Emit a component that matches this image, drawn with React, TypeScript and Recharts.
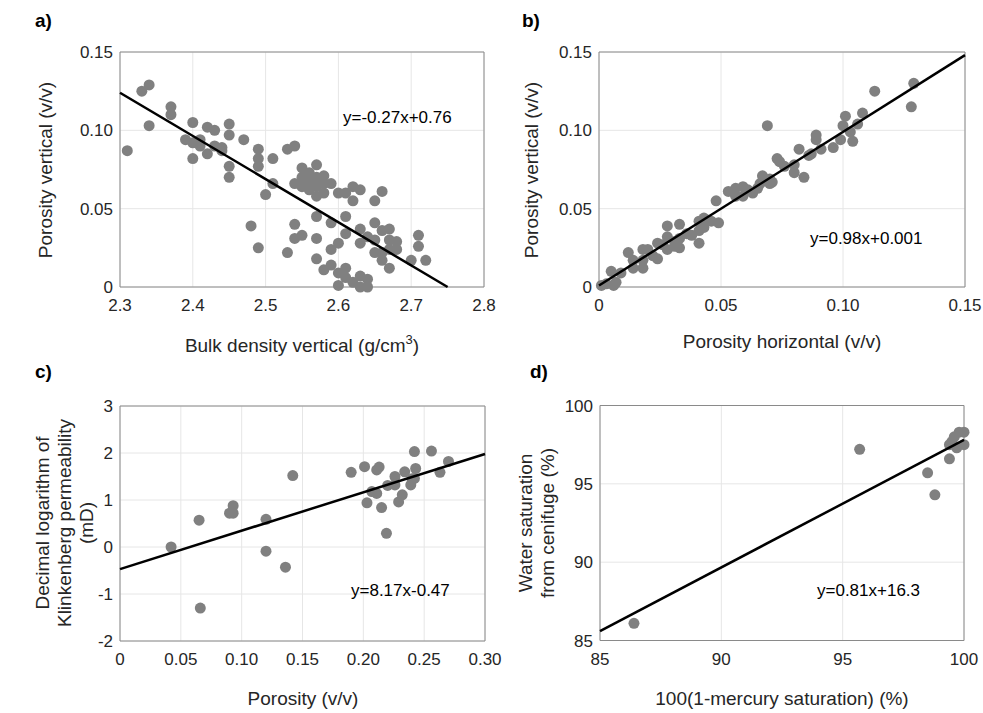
import { ScatterChart, Scatter, XAxis, YAxis, CartesianGrid, ReferenceArea } from "recharts";

const FONT = "'Liberation Sans', Arial, Helvetica, sans-serif";
const GREY = "#808080";
const INK = "#262626";

type Pt = [number, number];

// a) bulk density (g/cm3) vs vertical porosity (v/v)
const densityPorosity: Pt[] = [
  [2.31, 0.087], [2.33, 0.125], [2.34, 0.129], [2.34, 0.103], [2.37, 0.115], [2.37, 0.11],
  [2.4, 0.105], [2.39, 0.094], [2.4, 0.092], [2.41, 0.094], [2.41, 0.09], [2.4, 0.082],
  [2.42, 0.102], [2.43, 0.1], [2.42, 0.085], [2.43, 0.09], [2.44, 0.089], [2.44, 0.087],
  [2.45, 0.104], [2.45, 0.097], [2.45, 0.077], [2.45, 0.07], [2.47, 0.094], [2.49, 0.088],
  [2.49, 0.082], [2.49, 0.077], [2.51, 0.082], [2.51, 0.066], [2.5, 0.059], [2.48, 0.039],
  [2.49, 0.025], [2.53, 0.088], [2.53, 0.022],
  [2.54, 0.09], [2.55, 0.076], [2.57, 0.078], [2.54, 0.066], [2.55, 0.07], [2.56, 0.068],
  [2.57, 0.064], [2.58, 0.071], [2.58, 0.066], [2.59, 0.066], [2.57, 0.058], [2.56, 0.062],
  [2.6, 0.06], [2.61, 0.06], [2.62, 0.064], [2.63, 0.062], [2.62, 0.055], [2.65, 0.055],
  [2.66, 0.061], [2.56, 0.073], [2.57, 0.07], [2.55, 0.064], [2.58, 0.06],
  [2.57, 0.045], [2.54, 0.04], [2.54, 0.031], [2.55, 0.033], [2.57, 0.031], [2.57, 0.018],
  [2.59, 0.041], [2.59, 0.024], [2.6, 0.028], [2.61, 0.045], [2.61, 0.034], [2.58, 0.011],
  [2.59, 0.014], [2.6, 0.009], [2.61, 0.012], [2.61, 0.006], [2.6, 0.001], [2.62, 0.003],
  [2.63, 0.007], [2.64, 0.005], [2.64, 0.0], [2.63, 0.0], [2.63, 0.037], [2.63, 0.028],
  [2.64, 0.032], [2.65, 0.041], [2.65, 0.03], [2.65, 0.022], [2.66, 0.036], [2.66, 0.022],
  [2.66, 0.017], [2.67, 0.037], [2.67, 0.03], [2.67, 0.024], [2.67, 0.012], [2.68, 0.029],
  [2.68, 0.024], [2.7, 0.017], [2.71, 0.033], [2.71, 0.026], [2.72, 0.017],
];
const densityFit: Pt[] = [[2.3, 0.124], [2.75, 0]];

// b) horizontal vs vertical porosity
const porosityHV: Pt[] = [
  [0.069, 0.103], [0.001, 0.001], [0.003, 0.002], [0.005, 0.01], [0.007, 0.003], [0.009, 0.009],
  [0.006, 0.001], [0.012, 0.022], [0.014, 0.017], [0.014, 0.012], [0.018, 0.024], [0.018, 0.017],
  [0.018, 0.012], [0.02, 0.024], [0.022, 0.02], [0.024, 0.028], [0.024, 0.018], [0.026, 0.027],
  [0.028, 0.039], [0.028, 0.032], [0.028, 0.024], [0.031, 0.029], [0.031, 0.026], [0.033, 0.04],
  [0.033, 0.031], [0.036, 0.034], [0.033, 0.025], [0.038, 0.033], [0.041, 0.028], [0.041, 0.042],
  [0.041, 0.036], [0.043, 0.044], [0.046, 0.042], [0.049, 0.041], [0.048, 0.055], [0.043, 0.038],
  [0.053, 0.061], [0.056, 0.063], [0.056, 0.058], [0.059, 0.058], [0.059, 0.064], [0.061, 0.062],
  [0.063, 0.06], [0.065, 0.063], [0.066, 0.066], [0.067, 0.071], [0.07, 0.066], [0.07, 0.069],
  [0.073, 0.082], [0.074, 0.08], [0.071, 0.067], [0.076, 0.077], [0.08, 0.073], [0.08, 0.078],
  [0.082, 0.088], [0.084, 0.07], [0.086, 0.084], [0.087, 0.085], [0.089, 0.097], [0.089, 0.094],
  [0.091, 0.088], [0.096, 0.089], [0.1, 0.103], [0.101, 0.109], [0.099, 0.094], [0.104, 0.093],
  [0.106, 0.104], [0.108, 0.111], [0.103, 0.099], [0.113, 0.125], [0.129, 0.13], [0.128, 0.115],
];
const porosityFit: Pt[] = [[0, 0.001], [0.15, 0.148]];

// c) porosity vs log10 Klinkenberg permeability
const permeability: Pt[] = [
  [0.042, 0.0], [0.065, 0.57], [0.066, -1.3], [0.09, 0.72], [0.093, 0.72], [0.093, 0.88],
  [0.12, 0.59], [0.12, -0.09], [0.136, -0.43], [0.142, 1.52], [0.19, 1.59], [0.201, 1.71],
  [0.203, 0.94], [0.207, 1.18], [0.211, 1.14], [0.211, 1.64], [0.213, 1.7], [0.215, 0.84],
  [0.219, 0.29], [0.22, 1.31], [0.226, 1.5], [0.226, 1.32], [0.229, 0.96], [0.232, 1.11],
  [0.234, 1.6], [0.239, 1.32], [0.24, 1.45], [0.242, 2.03], [0.243, 1.67], [0.242, 1.46],
  [0.256, 2.04], [0.263, 1.59], [0.27, 1.82],
];
const permeabilityFit: Pt[] = [[0, -0.47], [0.3, 1.98]];

// d) mercury vs centrifuge water saturation
const saturation: Pt[] = [
  [86.4, 86.1], [95.7, 97.2], [98.5, 95.7], [98.8, 94.3], [99.4, 96.6], [99.4, 97.5],
  [99.7, 97.3], [99.6, 98.0], [99.8, 98.3], [100.0, 98.3], [100.0, 97.5], [99.5, 97.7],
];
const saturationFit: Pt[] = [[85, 85.6], [100, 97.8]];

const ticksA = { x: [2.3, 2.4, 2.5, 2.6, 2.7, 2.8], y: [0, 0.05, 0.1, 0.15] };
const ticksB = { x: [0, 0.05, 0.1, 0.15], y: [0, 0.05, 0.1, 0.15] };
const ticksC = { x: [0, 0.05, 0.1, 0.15, 0.2, 0.25, 0.3], y: [-2, -1, 0, 1, 2, 3] };
const ticksD = { x: [85, 90, 95, 100], y: [85, 90, 95, 100] };

const toXY = (pts: Pt[]) => pts.map(([x, y]) => ({ x, y }));
const two = (v: number) => (v === 0 ? "0" : v.toFixed(2));
const one = (v: number) => v.toFixed(1);
const int = (v: number) => String(v);

const Dot = (p: any) => <circle cx={p.cx} cy={p.cy} r={5.5} fill={GREY} />;
const NoDot = () => <g />;

function Panel({ box, plot, ticks, fmtX, fmtY, points, fit }: any) {
  const xDom = [ticks.x[0], ticks.x[ticks.x.length - 1]];
  const yDom = [ticks.y[0], ticks.y[ticks.y.length - 1]];
  const tick = { fill: INK, fontSize: 17, fontFamily: FONT };
  return (
    <div style={{ position: "absolute", left: box.left, top: box.top }}>
      <ScatterChart
        width={box.width}
        height={box.height}
        margin={{ top: plot.t, right: box.width - plot.r, bottom: box.height - plot.b - 30, left: 0 }}
      >
        <CartesianGrid stroke="#e6e6e6" />
        <XAxis
          type="number"
          dataKey="x"
          domain={xDom}
          ticks={ticks.x}
          tickFormatter={fmtX}
          interval={0}
          height={30}
          axisLine={false}
          tickLine={false}
          tickSize={0}
          tickMargin={12}
          tick={tick}
        />
        <YAxis
          type="number"
          dataKey="y"
          domain={yDom}
          ticks={ticks.y}
          tickFormatter={fmtY}
          interval={0}
          width={plot.l}
          axisLine={false}
          tickLine={false}
          tickSize={0}
          tickMargin={7}
          tick={tick}
        />
        <ReferenceArea x1={xDom[0]} x2={xDom[1]} y1={yDom[0]} y2={yDom[1]} fill="none" stroke="#8a8a8a" />
        <Scatter data={toXY(points)} shape={Dot} isAnimationActive={false} />
        <Scatter
          data={toXY(fit)}
          shape={NoDot}
          line={{ stroke: "#000", strokeWidth: 2.5 }}
          isAnimationActive={false}
        />
      </ScatterChart>
    </div>
  );
}

const label = { fill: INK, fontSize: 19, fontFamily: FONT };
const eq = { fill: "#000", fontSize: 17, fontFamily: FONT };
const letter = { fill: "#000", fontSize: 19, fontWeight: 700, fontFamily: FONT };

function vtext(x: number, y: number, s: string) {
  return (
    <text x={x} y={y} textAnchor="middle" transform={`rotate(-90 ${x} ${y})`} {...label}>
      {s}
    </text>
  );
}

export default function App() {
  return (
    <div style={{ position: "absolute", left: 0, top: 0, width: 983, height: 713, background: "#fff", fontFamily: FONT }}>
      {/* left column boxes run a bit wider than the gap so the last tick label is not cut */}
      <Panel
        box={{ left: 0, top: 0, width: 510, height: 356 }}
        plot={{ l: 120, t: 52, r: 484, b: 287 }}
        ticks={ticksA}
        fmtX={one}
        fmtY={two}
        points={densityPorosity}
        fit={densityFit}
      />
      <Panel
        box={{ left: 491, top: 0, width: 492, height: 356 }}
        plot={{ l: 108, t: 52, r: 474, b: 287 }}
        ticks={ticksB}
        fmtX={two}
        fmtY={two}
        points={porosityHV}
        fit={porosityFit}
      />
      <Panel
        box={{ left: 0, top: 356, width: 510, height: 357 }}
        plot={{ l: 120, t: 50, r: 485, b: 285 }}
        ticks={ticksC}
        fmtX={two}
        fmtY={int}
        points={permeability}
        fit={permeabilityFit}
      />
      <Panel
        box={{ left: 491, top: 356, width: 492, height: 357 }}
        plot={{ l: 109, t: 49.5, r: 473, b: 284.5 }}
        ticks={ticksD}
        fmtX={int}
        fmtY={int}
        points={saturation}
        fit={saturationFit}
      />

      <svg width={983} height={713} style={{ position: "absolute", left: 0, top: 0, pointerEvents: "none" }}>
        <text x={35} y={27} {...letter}>a)</text>
        <text x={522} y={27} {...letter}>b)</text>
        <text x={35} y={378} {...letter}>c)</text>
        <text x={530} y={378} {...letter}>d)</text>

        <text x={302} y={352} textAnchor="middle" {...label}>
          Bulk density vertical (g/cm<tspan dy={-8} fontSize={13}>3</tspan><tspan dy={8}>)</tspan>
        </text>
        <text x={782} y={348} textAnchor="middle" {...label}>Porosity horizontal (v/v)</text>
        <text x={303} y={705} textAnchor="middle" {...label}>Porosity (v/v)</text>
        <text x={782} y={705} textAnchor="middle" {...label}>100(1-mercury saturation) (%)</text>

        {vtext(52, 170, "Porosity vertical (v/v)")}
        {vtext(538, 170, "Porosity vertical (v/v)")}
        {vtext(49, 523, "Decimal logarithm of")}
        {vtext(71, 523, "Klinkenberg permeability")}
        {vtext(93, 523, "(mD)")}
        {vtext(532, 523, "Water saturation")}
        {vtext(554, 523, "from cenifuge (%)")}

        <text x={343} y={123} {...eq}>y=-0.27x+0.76</text>
        <text x={810} y={244} {...eq}>y=0.98x+0.001</text>
        <text x={351} y={596} {...eq}>y=8.17x-0.47</text>
        <text x={817} y={596} {...eq}>y=0.81x+16.3</text>
      </svg>
    </div>
  );
}
